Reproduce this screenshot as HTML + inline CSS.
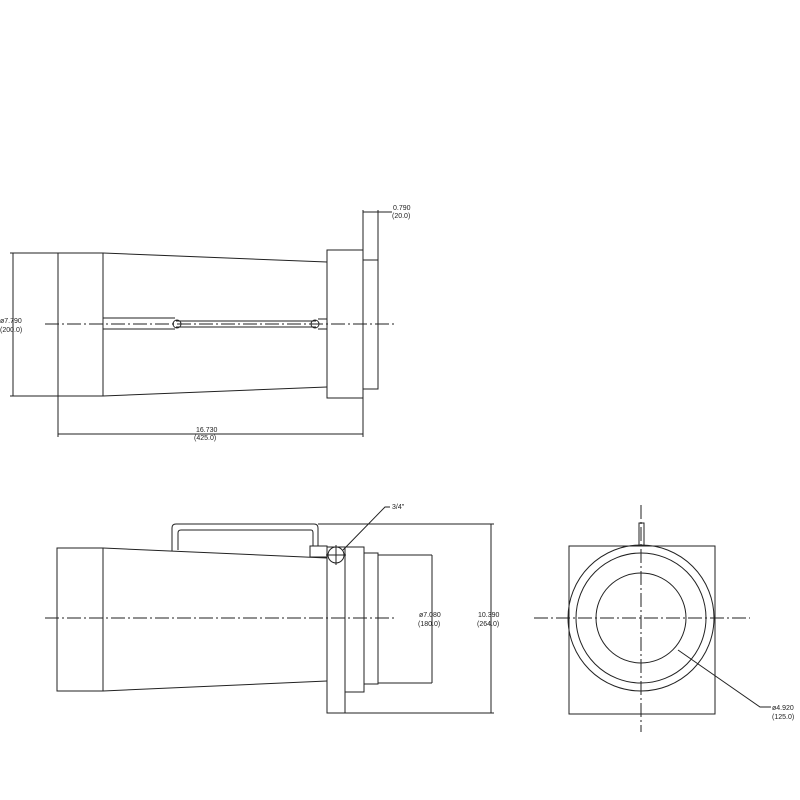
<!DOCTYPE html>
<html><head><meta charset="utf-8"><style>
html,body{margin:0;padding:0;background:#fff;}
svg{display:block}
text{font-family:"Liberation Sans",sans-serif;font-size:7px;fill:#222}
</style></head><body>
<svg width="800" height="800" viewBox="0 0 800 800" xmlns="http://www.w3.org/2000/svg">
<g stroke="#222" stroke-width="1" fill="none">
<!-- TOP VIEW -->
<line x1="10" y1="253" x2="103" y2="253"/>
<line x1="10" y1="396" x2="103" y2="396"/>
<line x1="13" y1="253" x2="13" y2="396"/>
<rect x="58" y="253" width="45" height="143"/>
<line x1="103" y1="253" x2="327" y2="262"/>
<line x1="103" y1="396" x2="327" y2="387"/>
<rect x="327" y="250" width="36" height="148"/>
<rect x="363" y="260" width="15" height="129"/>
<line x1="363" y1="210" x2="363" y2="250"/>
<line x1="378" y1="210" x2="378" y2="260"/>
<line x1="363" y1="212" x2="392" y2="212"/>
<line x1="58" y1="396" x2="58" y2="437"/>
<line x1="363" y1="398" x2="363" y2="437"/>
<line x1="58" y1="434" x2="363" y2="434"/>
<line x1="103" y1="318" x2="175" y2="318"/>
<line x1="103" y1="329" x2="175" y2="329"/>
<line x1="176" y1="321" x2="316" y2="321"/>
<line x1="176" y1="327" x2="316" y2="327"/>
<circle cx="177" cy="324" r="4"/>
<circle cx="315" cy="324" r="4"/>
<line x1="318" y1="319" x2="327" y2="319"/>
<line x1="318" y1="329" x2="327" y2="329"/>
<line x1="45" y1="324" x2="395" y2="324" stroke-dasharray="14,3,2,3"/>
<!-- SIDE VIEW -->
<rect x="57" y="548" width="46" height="143"/>
<line x1="103" y1="548" x2="327" y2="558"/>
<line x1="103" y1="691" x2="327" y2="681"/>
<path d="M172 551 V528 Q172 524 176 524 H314 Q318 524 318 528 V546"/>
<path d="M178 550 V533 Q178 530 181 530 H311 Q313 530 313 533 V546"/>
<rect x="310" y="546" width="17" height="11"/>
<rect x="327" y="547" width="18" height="166"/>
<rect x="345" y="547" width="19" height="145"/>
<rect x="364" y="553" width="14" height="131"/>
<line x1="378" y1="555" x2="432" y2="555"/>
<line x1="378" y1="683" x2="432" y2="683"/>
<line x1="432" y1="555" x2="432" y2="683"/>
<circle cx="336" cy="555" r="8"/>
<line x1="336" y1="545" x2="336" y2="565"/>
<line x1="326" y1="555" x2="346" y2="555"/>
<polyline points="343,550 385,507 390,507"/>
<line x1="318" y1="524" x2="494" y2="524"/>
<line x1="345" y1="713" x2="494" y2="713"/>
<line x1="491" y1="524" x2="491" y2="713"/>
<line x1="45" y1="618" x2="395" y2="618" stroke-dasharray="14,3,2,3"/>
<!-- END VIEW -->
<rect x="569" y="546" width="146" height="168"/>
<circle cx="641" cy="618" r="73"/>
<circle cx="641" cy="618" r="65"/>
<circle cx="641" cy="618" r="45"/>
<rect x="639" y="523" width="5" height="23"/>
<line x1="641" y1="505" x2="641" y2="732" stroke-dasharray="14,3,2,3"/>
<line x1="534" y1="618" x2="750" y2="618" stroke-dasharray="14,3,2,3"/>
<polyline points="678,650 760,707 771,707"/>
</g>
<text x="393" y="210">0.790</text>
<text x="392" y="218">(20.0)</text>
<text x="0" y="323">ø7.790</text>
<text x="0" y="332">(200.0)</text>
<text x="196" y="432">16.730</text>
<text x="194" y="440">(425.0)</text>
<text x="392" y="509">3/4"</text>
<text x="419" y="617">ø7.080</text>
<text x="418" y="626">(180.0)</text>
<text x="478" y="617">10.390</text>
<text x="477" y="626">(264.0)</text>
<text x="772" y="710">ø4.920</text>
<text x="772" y="719">(125.0)</text>
</svg>
</body></html>
